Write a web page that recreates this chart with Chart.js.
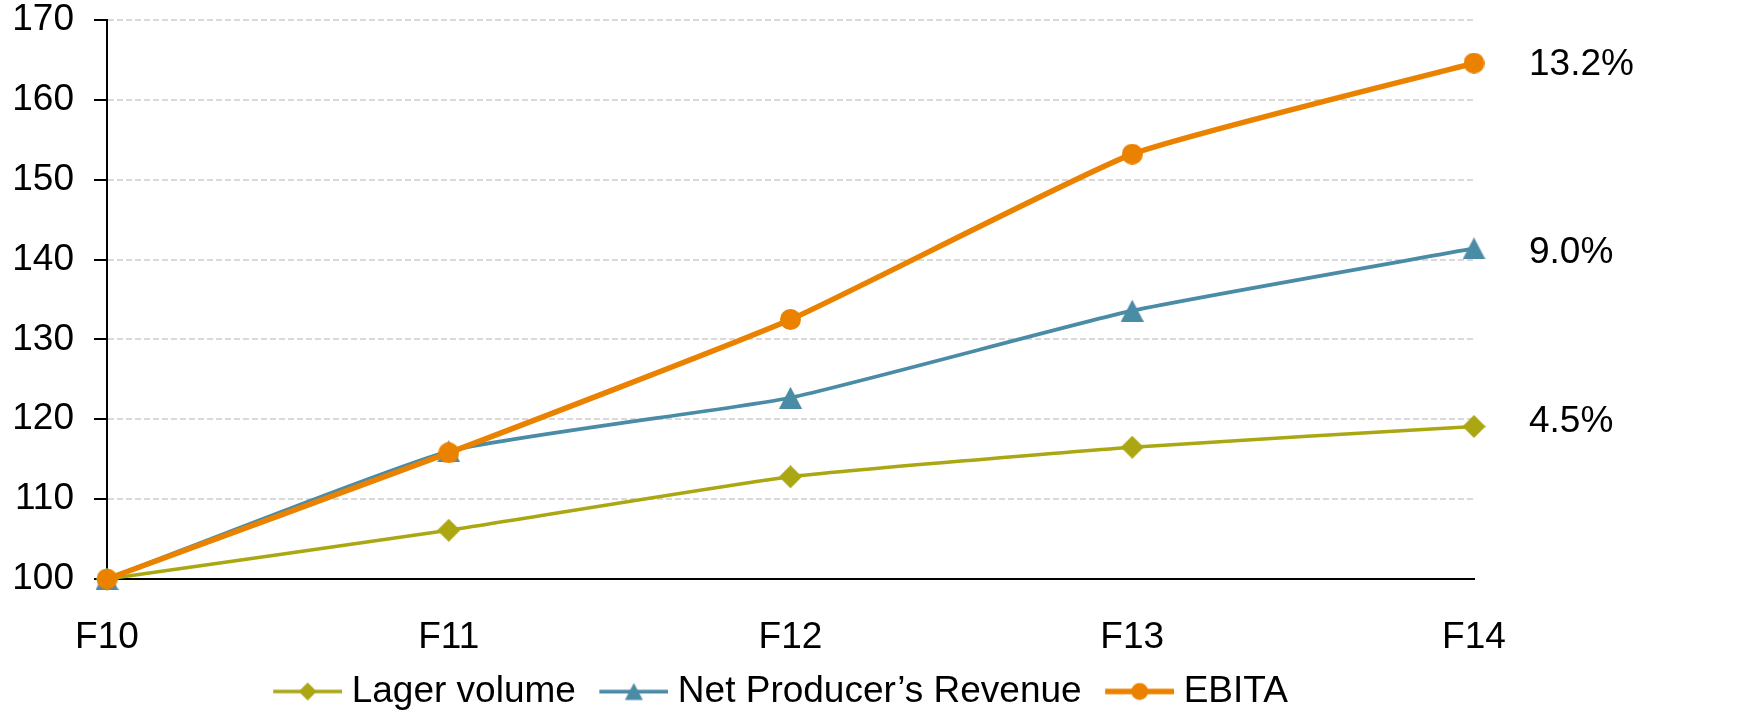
<!DOCTYPE html>
<html>
<head>
<meta charset="utf-8">
<title>Growth index F10–F14</title>
<script src="https://cdn.jsdelivr.net/npm/chart.js@4/dist/chart.umd.min.js"></script>
<style>
  html, body { margin: 0; padding: 0; background: #fff; }
  #wrap { width: 1759px; height: 710px; }
</style>
</head>
<body>
<div id="wrap"><canvas id="chart" width="1759" height="710"></canvas></div>
<script>
// Index values (F10 = 100)
const categories = ['F10', 'F11', 'F12', 'F13', 'F14'];
const lagerVolume = [100, 106.1, 112.8, 116.5, 119.1];
const netProducerRevenue = [100, 116.0, 122.7, 133.6, 141.4];
const ebita = [100, 115.8, 132.5, 153.2, 164.6];

const seriesNames = ['Lager volume', 'Net Producer’s Revenue', 'EBITA'];
// Compound annual growth shown at the end of each line
const growthLabels = ['4.5%', '9.0%', '13.2%'];
const yTickValues = [100, 110, 120, 130, 140, 150, 160, 170];

const FONT = '"Liberation Sans", Arial, Helvetica, sans-serif';
const OLIVE = '#ABA712';
const TEAL = '#4A8BA6';
const ORANGE = '#EA8200';

// Marker sprites, centred on their bounding box
function drawShape(g, shape, cx, cy, w, h) {
  g.beginPath();
  if (shape === 'diamond') {
    g.moveTo(cx, cy - h / 2); g.lineTo(cx + w / 2, cy);
    g.lineTo(cx, cy + h / 2); g.lineTo(cx - w / 2, cy);
  } else if (shape === 'triangle') {
    g.moveTo(cx, cy - h / 2); g.lineTo(cx + w / 2, cy + h / 2);
    g.lineTo(cx - w / 2, cy + h / 2);
  } else {
    g.arc(cx, cy, w / 2, 0, Math.PI * 2);
  }
  g.closePath();
  g.fill();
}

function makeMarker(shape, color, w, h) {
  const c = document.createElement('canvas');
  c.width = w; c.height = h;
  const g = c.getContext('2d');
  g.fillStyle = color;
  drawShape(g, shape, w / 2, h / 2, w, h);
  return c;
}

// Legend swatch: a short line with the marker, sitting at the right of the icon box
const SWATCH_LEN = 69;
const ICON_W = 80;
function makeLegendIcon(shape, color, lineWidth, mw, mh) {
  const c = document.createElement('canvas');
  c.width = ICON_W; c.height = 22;
  const g = c.getContext('2d');
  const x0 = ICON_W - SWATCH_LEN;
  g.strokeStyle = color;
  g.lineWidth = lineWidth;
  g.beginPath(); g.moveTo(x0, 11); g.lineTo(ICON_W, 11); g.stroke();
  g.fillStyle = color;
  drawShape(g, shape, x0 + SWATCH_LEN / 2, 11, mw, mh);
  return c;
}

const markers = [
  makeMarker('diamond', OLIVE, 23, 23),
  makeMarker('triangle', TEAL, 23, 22),
  makeMarker('circle', ORANGE, 21, 21)
];
const legendIcons = [
  makeLegendIcon('diamond', OLIVE, 3.5, 18, 18),
  makeLegendIcon('triangle', TEAL, 3.75, 18, 17),
  makeLegendIcon('circle', ORANGE, 5.5, 17, 17)
];

// Writes the growth rate to the right of each series' last point
const endLabels = {
  id: 'endLabels',
  afterDatasetsDraw(chart, args, opts) {
    const ctx = chart.ctx;
    ctx.save();
    ctx.font = '37px ' + FONT;
    ctx.fillStyle = '#000';
    ctx.textAlign = 'left';
    ctx.textBaseline = 'middle';
    chart.data.datasets.forEach((ds, i) => {
      const meta = chart.getDatasetMeta(i);
      const pt = meta.data[meta.data.length - 1];
      ctx.fillText(growthLabels[i], pt.x + opts.dx, pt.y + opts.dy[i]);
    });
    ctx.restore();
  }
};

// Slides the legend row sideways after layout
const legendShift = {
  id: 'legendShift',
  afterLayout(chart, args, opts) {
    const lg = chart.legend;
    if (lg) { lg.left += opts.dx; lg.right += opts.dx; }
  }
};

Chart.defaults.font.family = FONT;
Chart.defaults.color = '#000';

const series = [lagerVolume, netProducerRevenue, ebita];
const colors = [OLIVE, TEAL, ORANGE];
const widths = [3.5, 3.75, 5.5];

new Chart(document.getElementById('chart'), {
  type: 'line',
  data: {
    labels: categories,
    datasets: series.map((values, i) => ({
      label: seriesNames[i],
      data: values,
      borderColor: colors[i],
      backgroundColor: colors[i],
      borderWidth: widths[i],
      pointStyle: markers[i],
      pointRadius: 10,
      pointHoverRadius: 10,
      tension: 0.15,
      fill: false,
      clip: false,
      order: 3 - i
    }))
  },
  plugins: [endLabels, legendShift],
  options: {
    responsive: false,
    animation: false,
    devicePixelRatio: 1,
    layout: { padding: { top: 20, right: 285, bottom: 0, left: 0 } },
    scales: {
      x: {
        type: 'category',
        offset: false,
        grid: { display: false, drawTicks: false },
        border: { display: true, color: '#000', width: 2 },
        ticks: { font: { size: 37, lineHeight: 1 }, color: '#000', padding: 40, maxRotation: 0, autoSkip: false },
        afterFit: (scale) => { scale.height = 72.5; }
      },
      y: {
        min: 100,
        max: 170,
        afterBuildTicks: (scale) => { scale.ticks = yTickValues.map(v => ({ value: v })); },
        grid: {
          color: '#d9d9d9',
          lineWidth: 2,
          drawTicks: true,
          tickLength: 13,
          tickColor: '#000',
          tickWidth: 2,
          tickBorderDash: []
        },
        border: { display: true, color: '#000', width: 2, dash: [6, 3] },
        ticks: { font: { size: 37, lineHeight: 1 }, color: '#000', padding: 20 },
        afterFit: (scale) => {
          scale.width = 107;
          scale.paddingTop = 0;
          scale.paddingBottom = 0;
        }
      }
    },
    plugins: {
      tooltip: { enabled: false },
      endLabels: { dx: 55, dy: [-4.5, 4.5, 1.5] },
      legendShift: { dx: -11 },
      legend: {
        position: 'bottom',
        fullSize: false,
        maxHeight: 58.5,
        labels: {
          usePointStyle: true,
          pointStyleWidth: 62,
          padding: 21.5,
          color: '#000',
          font: { size: 37 },
          generateLabels: (chart) => chart.data.datasets.map((ds, i) => ({
            text: ds.label,
            pointStyle: legendIcons[i],
            datasetIndex: i,
            hidden: false,
            lineWidth: 0,
            fillStyle: 'rgba(0,0,0,0)',
            strokeStyle: 'rgba(0,0,0,0)',
            fontColor: '#000'
          }))
        }
      }
    }
  }
});
</script>
</body>
</html>
